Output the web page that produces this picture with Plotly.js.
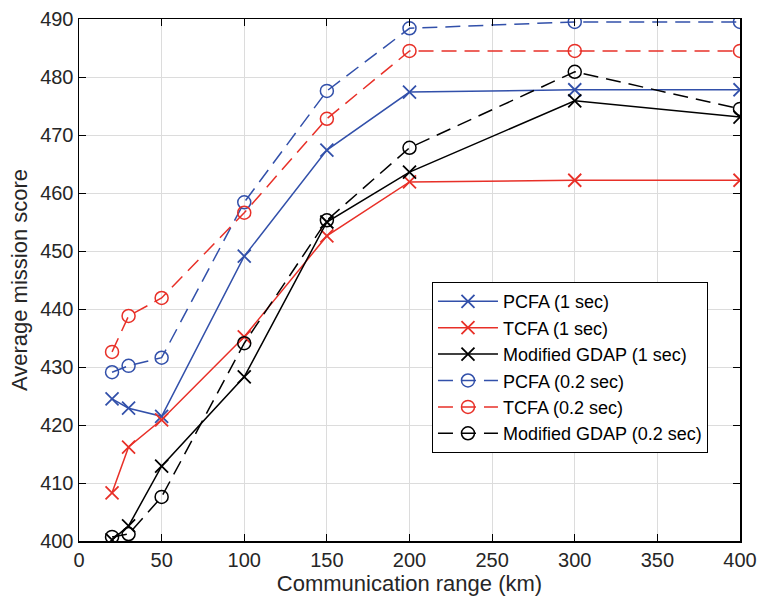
<!DOCTYPE html>
<html><head><meta charset="utf-8">
<script src="https://cdn.plot.ly/plotly-3.0.1.min.js"></script>
<style>body{margin:0;padding:0;background:#fff}#chart{width:757px;height:605px}</style>
</head><body><div id="chart"></div>
<script>
const ranges = [20, 30, 50, 100, 150, 200, 300, 400];
const pcfa1 = [424.5, 422.9, 421.5, 449.1, 467.4, 477.4, 477.8, 477.8];
const tcfa1 = [408.3, 416.2, 420.9, 435.2, 452.6, 461.9, 462.2, 462.2];
const gdap1 = [400.2, 402.6, 412.9, 428.3, 455.0, 463.6, 475.9, 473.1];
const pcfa02 = [429.1, 430.2, 431.6, 458.4, 477.6, 488.4, 489.5, 489.5];
const tcfa02 = [432.6, 438.8, 441.9, 456.6, 472.8, 484.5, 484.5, 484.5];
const gdap02 = [400.7, 401.2, 407.6, 434.1, 455.3, 467.8, 480.9, 474.5];
const names = ['PCFA (1 sec)', 'TCFA (1 sec)', 'Modified GDAP (1 sec)', 'PCFA (0.2 sec)', 'TCFA (0.2 sec)', 'Modified GDAP (0.2 sec)'];
const xTicks = [0, 50, 100, 150, 200, 250, 300, 350, 400];
const yTicks = [400, 410, 420, 430, 440, 450, 460, 470, 480, 490];

const blue = 'rgb(50,80,170)', red = 'rgb(232,48,40)', black = 'rgb(0,0,0)';
function tr(y, name, color, dashed) {
  return {
    x: ranges, y: y, name: name, type: 'scatter', mode: 'lines+markers',
    line: {color: color, width: 1.5, dash: dashed ? '15px,8px' : 'solid'},
    marker: dashed ? {symbol: 'circle-open', size: 13, color: color, line: {color: color, width: 1.5}}
                   : {symbol: 'x-thin-open', size: 13, color: color, line: {color: color, width: 1.8}}
  };
}
const data = [
  tr(pcfa1, names[0], blue, false),
  tr(tcfa1, names[1], red, false),
  tr(gdap1, names[2], black, false),
  tr(pcfa02, names[3], blue, true),
  tr(tcfa02, names[4], red, true),
  tr(gdap02, names[5], black, true)
];
const layout = {
  width: 757, height: 605,
  margin: {l: 79, r: 17, t: 19, b: 64},
  paper_bgcolor: '#fff', plot_bgcolor: '#fff',
  font: {family: 'Liberation Sans, Arial, sans-serif', size: 20, color: '#262626'},
  showlegend: true,
  legend: {x: 0.534, y: 0.496, xanchor: 'left', yanchor: 'top', bgcolor: '#fff',
           bordercolor: '#000', borderwidth: 1, font: {size: 18, color: '#000'},
           tracegroupgap: 0, itemwidth: 60},
  xaxis: {range: [0, 400], tickvals: xTicks, ticktext: xTicks.map(String),
          ticks: 'inside', ticklen: 7, tickcolor: '#000', mirror: 'ticks',
          showline: true, linecolor: '#000', linewidth: 1.5,
          showgrid: true, gridcolor: '#dcdcdc', gridwidth: 1, zeroline: false,
          title: {text: 'Communication range (km)', font: {size: 22, color: '#262626'}, standoff: 6}},
  yaxis: {range: [400, 490], tickvals: yTicks, ticktext: yTicks.map(String),
          ticks: 'inside', ticklen: 7, tickcolor: '#000', mirror: 'ticks',
          showline: true, linecolor: '#000', linewidth: 1.5,
          showgrid: true, gridcolor: '#dcdcdc', gridwidth: 1, zeroline: false,
          title: {text: 'Average mission score', font: {size: 22, color: '#262626'}, standoff: 6}}
};
Plotly.newPlot('chart', data, layout, {displayModeBar: false, staticPlot: true});
</script></body></html>
